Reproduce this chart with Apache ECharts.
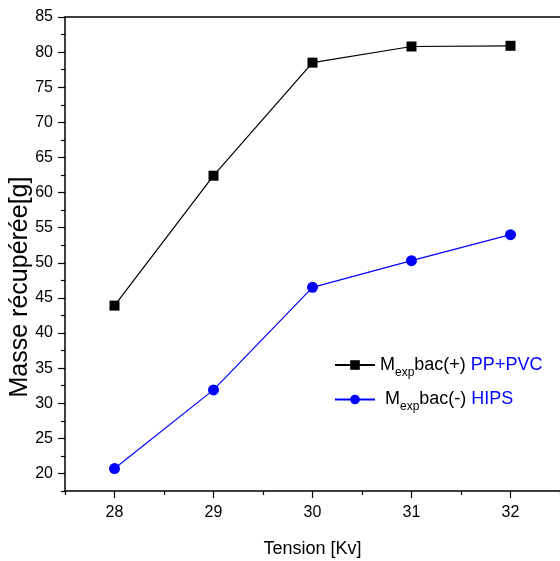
<!DOCTYPE html>
<html>
<head>
<meta charset="utf-8">
<script src="https://cdn.jsdelivr.net/npm/echarts@6/dist/echarts.min.js"></script>
<style>html,body{margin:0;padding:0;background:#fff}#c{width:560px;height:561px}</style>
</head>
<body>
<div id="c"></div>
<script>
const tensions = [28, 29, 30, 31, 32];
const masseBacPlus = [43.9, 62.4, 78.5, 80.8, 80.9];
const masseBacMoins = [20.7, 31.9, 46.5, 50.3, 54.0];
const xMajorTicks = [28, 29, 30, 31, 32];
const xMinorTicks = [27.5, 28.5, 29.5, 30.5, 31.5, 32.5];
const yMajorTicks = [20, 25, 30, 35, 40, 45, 50, 55, 60, 65, 70, 75, 80, 85];
const yMinorTicks = [17.5, 22.5, 27.5, 32.5, 37.5, 42.5, 47.5, 52.5, 57.5, 62.5, 67.5, 72.5, 77.5, 82.5];
const seriesNames = ['bacPlus', 'bacMoins'];

const FONT = 'Liberation Sans';
const X_MIN = 27.5, X_MAX = 32.5, Y_MIN = 17.5, Y_MAX = 85;

const chart = echarts.init(document.getElementById('c'));

const legendRich = {
  m: { fontFamily: FONT, fontSize: 18, color: '#000' },
  sub: { fontFamily: FONT, fontSize: 12, color: '#000', padding: [15, 0, 0, 0] },
  b: { fontFamily: FONT, fontSize: 18, color: '#000' },
  blue: { fontFamily: FONT, fontSize: 18, color: '#0000ff' }
};

chart.setOption({
  animation: false,
  backgroundColor: '#fff',
  grid: { left: 65, right: 0, top: 17, bottom: 70, containLabel: false, outerBoundsMode: 'none' },
  xAxis: [
    {
      type: 'value', min: X_MIN, max: X_MAX, position: 'bottom',
      name: 'Tension [Kv]', nameLocation: 'middle', nameGap: 49, nameMoveOverlap: false,
      nameTextStyle: { fontFamily: FONT, fontSize: 18, color: '#000' },
      axisLine: { show: true, lineStyle: { color: '#000', width: 1.5 } },
      axisTick: { show: true, customValues: xMajorTicks, length: 7, lineStyle: { color: '#000', width: 1.2 } },
      axisLabel: { customValues: xMajorTicks, margin: 14, fontFamily: FONT, fontSize: 16, color: '#000' },
      splitLine: { show: false }
    },
    {
      type: 'value', min: X_MIN, max: X_MAX, position: 'bottom',
      axisLine: { show: false },
      axisTick: { show: true, customValues: xMinorTicks, length: 4, lineStyle: { color: '#000', width: 1.2 } },
      axisLabel: { show: false },
      splitLine: { show: false }
    },
    {
      type: 'value', min: X_MIN, max: X_MAX, position: 'top',
      axisLine: { show: true, lineStyle: { color: '#000', width: 1.5 } },
      axisTick: { show: false }, axisLabel: { show: false }, splitLine: { show: false }
    }
  ],
  yAxis: [
    {
      type: 'value', min: Y_MIN, max: Y_MAX, position: 'left',
      name: 'Masse récupérée[g]', nameLocation: 'middle', nameGap: 32, nameRotate: 90, nameMoveOverlap: false,
      nameTextStyle: { fontFamily: FONT, fontSize: 25, color: '#000', padding: [0, 66, 0, 0] },
      axisLine: { show: true, lineStyle: { color: '#000', width: 1.5 } },
      axisTick: { show: true, customValues: yMajorTicks, length: 7, lineStyle: { color: '#000', width: 1.2 } },
      axisLabel: { customValues: yMajorTicks, margin: 12, fontFamily: FONT, fontSize: 16, color: '#000' },
      splitLine: { show: false }
    },
    {
      type: 'value', min: Y_MIN, max: Y_MAX, position: 'left',
      axisLine: { show: false },
      axisTick: { show: true, customValues: yMinorTicks, length: 4, lineStyle: { color: '#000', width: 1.2 } },
      axisLabel: { show: false },
      splitLine: { show: false }
    }
  ],
  legend: {
    orient: 'vertical', left: 329, top: 351, itemWidth: 40, itemHeight: 12, itemGap: 12,
    data: seriesNames,
    formatter: function (name) {
      return name === 'bacPlus'
        ? '{m|M}{sub|exp}{b|bac(+) }{blue|PP+PVC}'
        : '{m| M}{sub|exp}{b|bac(-) }{blue|HIPS}';
    },
    textStyle: { rich: legendRich }
  },
  series: [
    {
      name: seriesNames[0], type: 'line', xAxisIndex: 0, yAxisIndex: 0,
      data: tensions.map((t, i) => [t, masseBacPlus[i]]),
      symbol: 'rect', symbolSize: 10,
      itemStyle: { color: '#000' }, lineStyle: { color: '#000', width: 1.2 }
    },
    {
      name: seriesNames[1], type: 'line', xAxisIndex: 0, yAxisIndex: 0,
      data: tensions.map((t, i) => [t, masseBacMoins[i]]),
      symbol: 'circle', symbolSize: 11,
      itemStyle: { color: '#0000ff' }, lineStyle: { color: '#0000ff', width: 1.2 }
    }
  ]
});
</script>
</body>
</html>
